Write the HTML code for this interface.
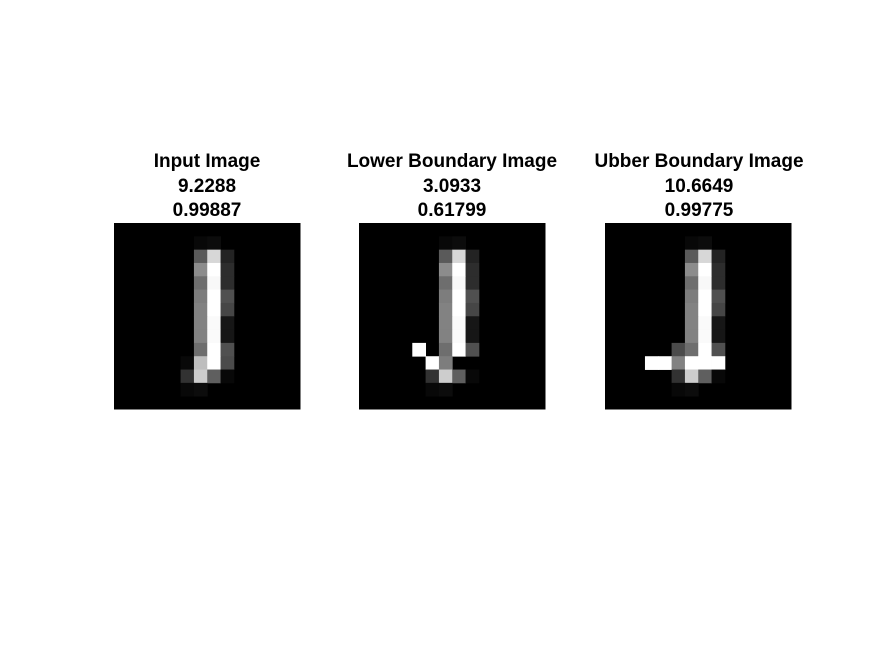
<!DOCTYPE html>
<html><head><meta charset="utf-8"><style>
body{margin:0;background:#fff;width:875px;height:656px;overflow:hidden;font-family:"Liberation Sans",Arial,sans-serif}
.t{position:absolute;width:300px;text-align:center;font-weight:bold;font-size:19px;line-height:24.5px;color:#000}
</style></head><body>
<svg id="svg" width="875" height="656" style="position:absolute;left:0;top:0"></svg>
<div class="t" style="left:57px;top:150px">Input Image<br>9.2288<br>0.99887</div>
<div class="t" style="left:302px;top:150px">Lower Boundary Image<br>3.0933<br>0.61799</div>
<div class="t" style="left:549px;top:150px">Ubber Boundary Image<br>10.6649<br>0.99775</div>
<script>
// base digit: rows 1..12, cols 5..8
const baseRows=[1,2,3,4,5,6,7,8,9,10,11,12];
const baseVals=[
[0,8,12,0],[0,90,215,35],[0,140,255,45],[0,110,248,45],[0,125,255,80],[0,130,255,70],
[0,130,250,22],[0,130,250,22],[0,110,255,80],[8,190,255,75],[50,205,95,8],[8,12,0,0]];
// overrides: [row, col, value]
const lowerEdits=[[9,4,255],[10,5,255],[10,6,125],[10,7,0],[10,8,0]];
const upperEdits=[[9,5,75],[10,3,255],[10,4,255],[10,5,130],[10,6,255],[10,7,255],[10,8,255]];
const panels=[{x:114,name:'input-image',edits:[]},{x:359,name:'lower-boundary-image',edits:lowerEdits},{x:605,name:'upper-boundary-image',edits:upperEdits}];
const N=14, y0=223, size=186.5, cell=size/N;
const svg=document.getElementById('svg');
const ns='http://www.w3.org/2000/svg';
panels.forEach(p=>{
  const g=Array.from({length:N},()=>Array(N).fill(0));
  baseRows.forEach((r,i)=>baseVals[i].forEach((v,j)=>g[r][5+j]=v));
  p.edits.forEach(([r,c,v])=>g[r][c]=v);
  const grp=document.createElementNS(ns,'g');
  
  
  const bg=document.createElementNS(ns,'rect');
  bg.setAttribute('x',p.x);bg.setAttribute('y',y0);bg.setAttribute('width',size);bg.setAttribute('height',size);bg.setAttribute('fill','#000');
  grp.appendChild(bg);
  for(let r=0;r<N;r++)for(let c=0;c<N;c++){const v=g[r][c];if(!v)continue;
    const e=document.createElementNS(ns,'rect');
    
    
    e.setAttribute('x',p.x+c*cell);e.setAttribute('y',y0+r*cell);
    e.setAttribute('width',cell+0.4);e.setAttribute('height',cell+0.4);
    e.setAttribute('fill',`rgb(${v},${v},${v})`);grp.appendChild(e);}
  svg.appendChild(grp);
});
</script>
</body></html>
